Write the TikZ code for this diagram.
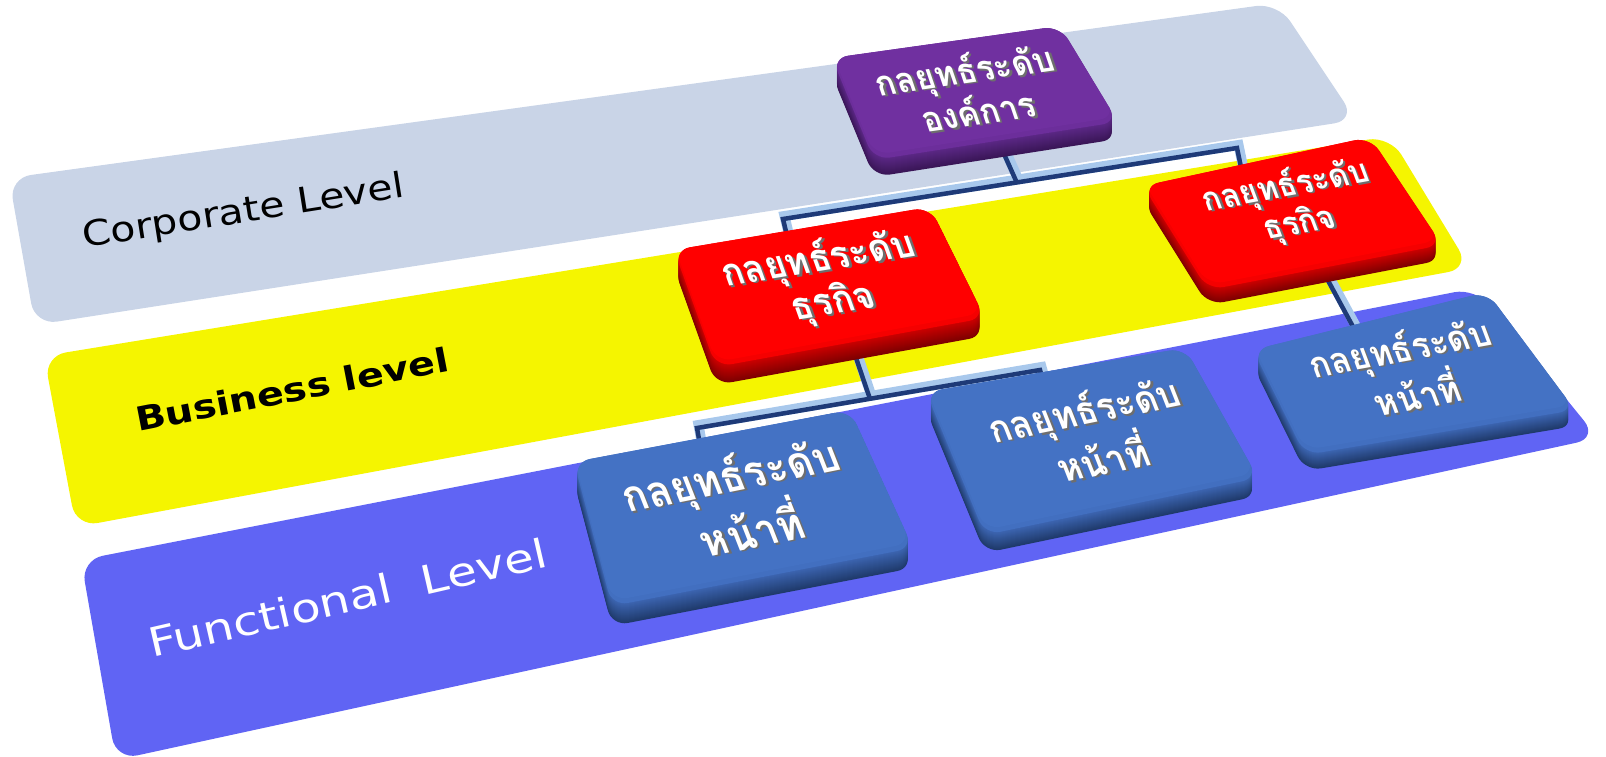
\documentclass[tikz,border=0pt]{standalone}
\usepackage{fontspec}
\setmainfont{DejaVu Sans}
\newfontfamily\thaifont[Script=Thai]{Loma}
\newfontfamily\labelfont{DejaVu Sans}

% band colours
\definecolor{bandGrey}{HTML}{C9D4E7}
\definecolor{bandYellow}{HTML}{F5F500}
\definecolor{bandBlue}{HTML}{6064F4}
% slab colours: top face, upper side, lower side
\definecolor{corpTop}{HTML}{7030A0}
\definecolor{corpSide}{HTML}{5A2784}
\definecolor{corpDark}{HTML}{3A1657}
\definecolor{bizTop}{HTML}{FF0000}
\definecolor{bizSide}{HTML}{C80000}
\definecolor{bizDark}{HTML}{7E0000}
\definecolor{funTop}{HTML}{4472C4}
\definecolor{funSide}{HTML}{3B63AE}
\definecolor{funDark}{HTML}{1F3A6B}
% connector colours
\definecolor{linkDark}{HTML}{1E3A78}
\definecolor{linkLight}{HTML}{A8C8EC}
\definecolor{shadowGrey}{HTML}{6E6E6E}

% white lettering with a grey drop shadow
\newcommand\embossed[1]{\leavevmode\rlap{\kern1.8pt\raisebox{-1.8pt}{\textcolor{shadowGrey}{#1}}}\textcolor{white}{#1}}
\newcommand\thaisize[2]{\thaifont\bfseries\fontsize{#1}{#2}\selectfont}
\newcommand\labelsize[2]{\labelfont\fontsize{#1}{#2}\selectfont}
% widened lettering for the level names
\newcommand\wide[2]{\scalebox{#1}[1]{#2}}

% raised slab: #1 corner prefix, #2 top colour, #3 side colour, #4 dark side colour, #5 thickness
\newcommand\facepath[1]{(#1-tl) -- (#1-tr) -- (#1-br) -- (#1-bl) -- cycle}
\newcommand\slab[5]{%
  \foreach \k in {#5,...,1}{%
    \pgfmathtruncatemacro\pct{100*(\k-1)/(#5-1)}%
    \fill[rounded corners=16, #4!\pct!#3]
      ([yshift=-\k pt]#1-tl) -- ([yshift=-\k pt]#1-tr) -- ([yshift=-\k pt]#1-br) -- ([yshift=-\k pt]#1-bl) -- cycle;
  }%
  % top face with a soft bevel along its lower rim
  \fill[rounded corners=16, #2!82!#3] \facepath{#1};
  \begin{scope}
    \clip[rounded corners=16] \facepath{#1};
    \fill[rounded corners=16, #2]
      ([yshift=5pt]#1-tl) -- ([yshift=5pt,xshift=-2pt]#1-tr) -- ([yshift=5pt,xshift=-2pt]#1-br) -- ([yshift=5pt]#1-bl) -- cycle;
  \end{scope}
}

\begin{document}
\begin{tikzpicture}[x=1pt,y=-1pt,
  band/.style={rounded corners=22},
  bandlabel/.style={anchor=base west, inner sep=0pt},
  boxtext/.style={align=center, inner sep=0pt, xslant=-0.2},
  linkglow/.style={draw=linkLight, line width=10pt, line join=miter},
  linkcore/.style={draw=linkDark, line width=4.5pt, line join=miter}]
\useasboundingbox (0,0) rectangle (1606,757);

% ---- level bands ----
\fill[band, bandGrey]   (9,178)  -- (1278,3)   -- (1356,120) -- (35,325)  -- cycle;
\fill[band, bandYellow] (44,356) -- (1390,136) -- (1470,268) -- (76,527)  -- cycle;
\fill[band, bandBlue]   (81,560) -- (1476,288) -- (1598,438) -- (116,760) -- cycle;

\node[bandlabel, rotate=9, font=\labelsize{35}{41}, text=black] (corpLabel) at (84,248) {\wide{1.17}{Corporate Level}};
\node[bandlabel, rotate=11, font=\labelsize{33}{39}\bfseries, text=black] (bizLabel) at (138,432) {\wide{1.2}{Business level}};
\node[bandlabel, rotate=13, font=\labelsize{40}{46}, text=white] (funLabel) at (152,658) {\wide{1.21}{Functional\ \ Level}};

% ---- slab corners ----
\coordinate (corp-tl) at (832,58);   \coordinate (corp-tr) at (1060,26);
\coordinate (corp-br) at (1118,122); \coordinate (corp-bl) at (874,160);
\coordinate (bizA-tl) at (674,250);  \coordinate (bizA-tr) at (930,207);
\coordinate (bizA-br) at (985,318);  \coordinate (bizA-bl) at (716,367);
\coordinate (bizB-tl) at (1143,186); \coordinate (bizB-tr) at (1370,137);
\coordinate (bizB-br) at (1442,245); \coordinate (bizB-bl) at (1208,290);
\coordinate (funA-tl) at (574,462);  \coordinate (funA-tr) at (850,410);
\coordinate (funA-br) at (913,548);  \coordinate (funA-bl) at (612,606);
\coordinate (funB-tl) at (926,392);  \coordinate (funB-tr) at (1185,348);
\coordinate (funB-br) at (1258,478); \coordinate (funB-bl) at (985,535);
\coordinate (funC-tl) at (1253,350); \coordinate (funC-tr) at (1487,292);
\coordinate (funC-br) at (1575,410); \coordinate (funC-bl) at (1305,455);

% ---- connector points ----
\coordinate (corpStem) at (1000,145);
\coordinate (corpJoin) at (1017,183);
\coordinate (corpBusL) at (783,219);
\coordinate (corpBusR) at (1237,148);
\coordinate (bizADrop) at (788,240);
\coordinate (bizBDrop) at (1242,172);
\coordinate (bizAStem) at (855,355);
\coordinate (bizAJoin) at (870,399);
\coordinate (bizABusL) at (697,428);
\coordinate (bizABusR) at (1040,370);
\coordinate (funADrop) at (701,450);
\coordinate (funBDrop) at (1045,388);
\coordinate (bizBStem) at (1325,275);
\coordinate (funCDrop) at (1358,336);

% light upper edge of the connector bars, then their dark core
\begin{scope}[transform canvas={xshift=1.5pt,yshift=3pt}]
  \draw[linkglow] (bizADrop) -- (corpBusL) -- (corpBusR) -- (bizBDrop);
  \draw[linkglow] (corpStem) -- (corpJoin);
  \draw[linkglow] (funADrop) -- (bizABusL) -- (bizABusR) -- (funBDrop);
  \draw[linkglow] (bizAStem) -- (bizAJoin);
  \draw[linkglow] (bizBStem) -- (funCDrop);
\end{scope}
\draw[linkcore] (bizADrop) -- (corpBusL) -- (corpBusR) -- (bizBDrop);
\draw[linkcore] (corpStem) -- (corpJoin);
\draw[linkcore] (funADrop) -- (bizABusL) -- (bizABusR) -- (funBDrop);
\draw[linkcore] (bizAStem) -- (bizAJoin);
\draw[linkcore] (bizBStem) -- (funCDrop);

% ---- slabs ----
\slab{corp}{corpTop}{corpSide}{corpDark}{17}
\slab{bizA}{bizTop}{bizSide}{bizDark}{18}
\slab{bizB}{bizTop}{bizSide}{bizDark}{15}
\slab{funA}{funTop}{funSide}{funDark}{20}
\slab{funB}{funTop}{funSide}{funDark}{18}
\slab{funC}{funTop}{funSide}{funDark}{16}

% ---- slab captions ----
\node[boxtext, rotate=8, font=\thaisize{34}{32}] (corp) at (971,90) {\embossed{กลยุทธ์ระดับ}\\\embossed{องค์การ}};
\node[boxtext, rotate=9, font=\thaisize{37}{35}] (bizA) at (826,282) {\embossed{กลยุทธ์ระดับ}\\\embossed{ธุรกิจ}};
\node[boxtext, rotate=10, font=\thaisize{32}{30}] (bizB) at (1293,206) {\embossed{กลยุทธ์ระดับ}\\\embossed{ธุรกิจ}};
\node[boxtext, rotate=11, font=\thaisize{42}{40}] (funA) at (740,502) {\embossed{กลยุทธ์ระดับ}\\\embossed{หน้าที่}};
\node[boxtext, rotate=11, font=\thaisize{37}{35}] (funB) at (1093,434) {\embossed{กลยุทธ์ระดับ}\\\embossed{หน้าที่}};
\node[boxtext, rotate=10, font=\thaisize{35}{33}] (funC) at (1408,371) {\embossed{กลยุทธ์ระดับ}\\\embossed{หน้าที่}};
\end{tikzpicture}
\end{document}
